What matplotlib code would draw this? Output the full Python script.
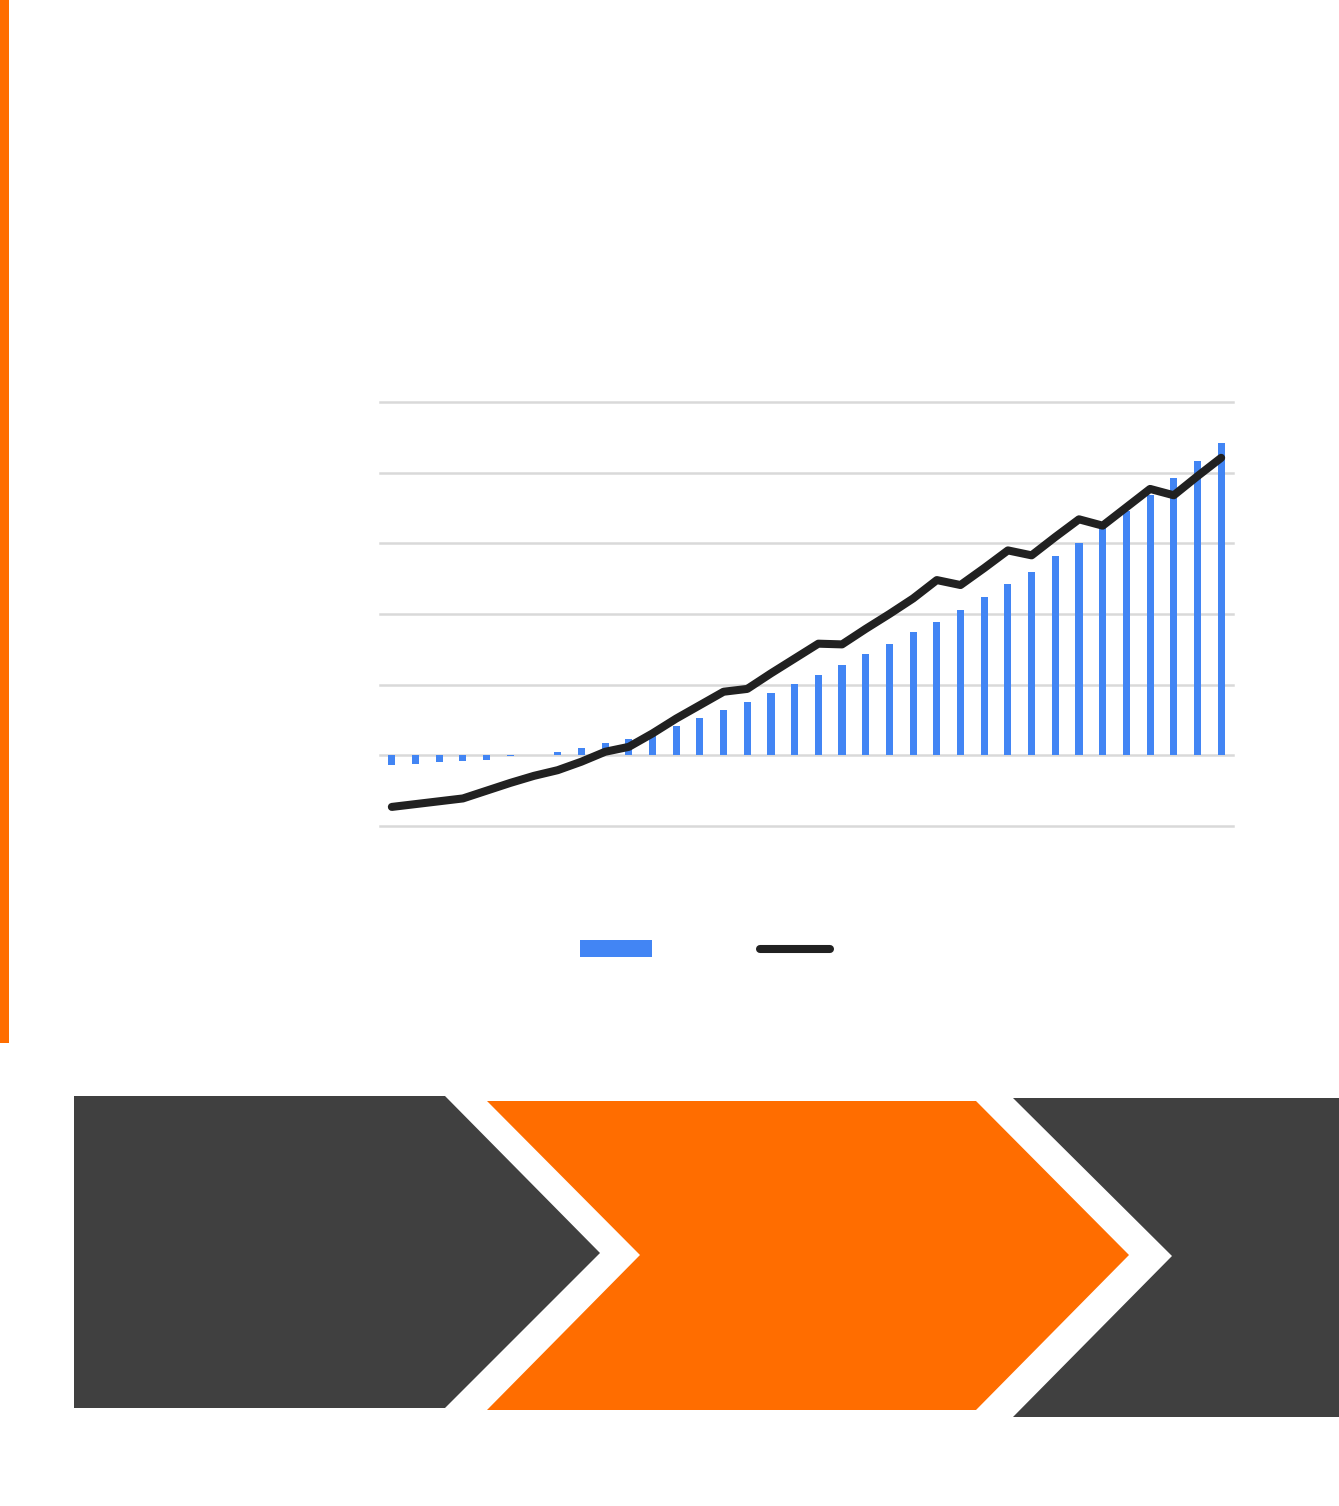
import matplotlib
matplotlib.use("Agg")
import matplotlib.pyplot as plt
from matplotlib.patches import Polygon, Rectangle
import numpy as np

# values (gridline step = 1 unit, zero line at 0)
periods = list(range(1, 37))
bar_values = [-0.13, -0.12, -0.10, -0.085, -0.07, -0.01, 0.0, 0.05, 0.10, 0.17,
              0.23, 0.31, 0.42, 0.53, 0.64, 0.75, 0.88, 1.01, 1.14, 1.28,
              1.43, 1.58, 1.74, 1.89, 2.05, 2.24, 2.42, 2.60, 2.82, 3.01,
              3.23, 3.46, 3.69, 3.92, 4.16, 4.42]
line_values = [-0.73, -0.69, -0.65, -0.61, -0.50, -0.39, -0.29, -0.21, -0.09, 0.05,
               0.12, 0.31, 0.52, 0.71, 0.90, 0.94, 1.16, 1.37, 1.58, 1.57,
               1.79, 2.00, 2.22, 2.48, 2.41, 2.65, 2.90, 2.83, 3.09, 3.34,
               3.25, 3.51, 3.77, 3.68, 3.95, 4.21]
grid_levels = [-1, 0, 1, 2, 3, 4, 5]

BLUE = "#4285f4"
DARK = "#212121"
ORANGE = "#ff6d00"
GREY = "#404040"

W, H = 1339, 1506
fig = plt.figure(figsize=(W / 100, H / 100), dpi=100)

# overlay in pixel coordinates for the decoration
deco = fig.add_axes([0, 0, 1, 1])
deco.set_xlim(0, W)
deco.set_ylim(H, 0)
deco.axis("off")

deco.add_patch(Rectangle((0, 0), 9, 1043, color=ORANGE, lw=0))

# chevrons at the bottom
deco.add_patch(Polygon([(74, 1096), (445, 1096), (600, 1253), (445, 1408), (74, 1408)],
                       closed=True, color=GREY, lw=0))
deco.add_patch(Polygon([(487, 1101), (976, 1101), (1129, 1255), (976, 1410), (487, 1410), (640, 1255)],
                       closed=True, color=ORANGE, lw=0))
deco.add_patch(Polygon([(1013, 1098), (1339, 1098), (1339, 1417), (1013, 1417), (1172, 1256)],
                       closed=True, color=GREY, lw=0))

# legend swatches (labels are blank in the original)
deco.add_patch(Rectangle((580, 940), 72, 17, color=BLUE, lw=0))
deco.plot([760, 830], [948.5, 948.5], color=DARK, lw=5.8, solid_capstyle="round")

# main chart: x 380..1233 px, y 402..826 px
ax = fig.add_axes([380 / W, 1 - 826 / H, (1233 - 380) / W, (826 - 402) / H])
x = np.arange(len(periods))
for g in grid_levels:
    ax.axhline(g, color="#d9d9d9", lw=1.8, zorder=1, clip_on=False)
ax.bar(x, bar_values, width=0.3, color=BLUE, zorder=2)
ax.plot(x, line_values, color=DARK, lw=5.8, solid_capstyle="round",
        solid_joinstyle="round", zorder=3, clip_on=False)
ax.set_xlim(-0.5, len(periods) - 0.5)
ax.set_ylim(-1, 5)
ax.axis("off")

fig.savefig("out.png", dpi=100)
